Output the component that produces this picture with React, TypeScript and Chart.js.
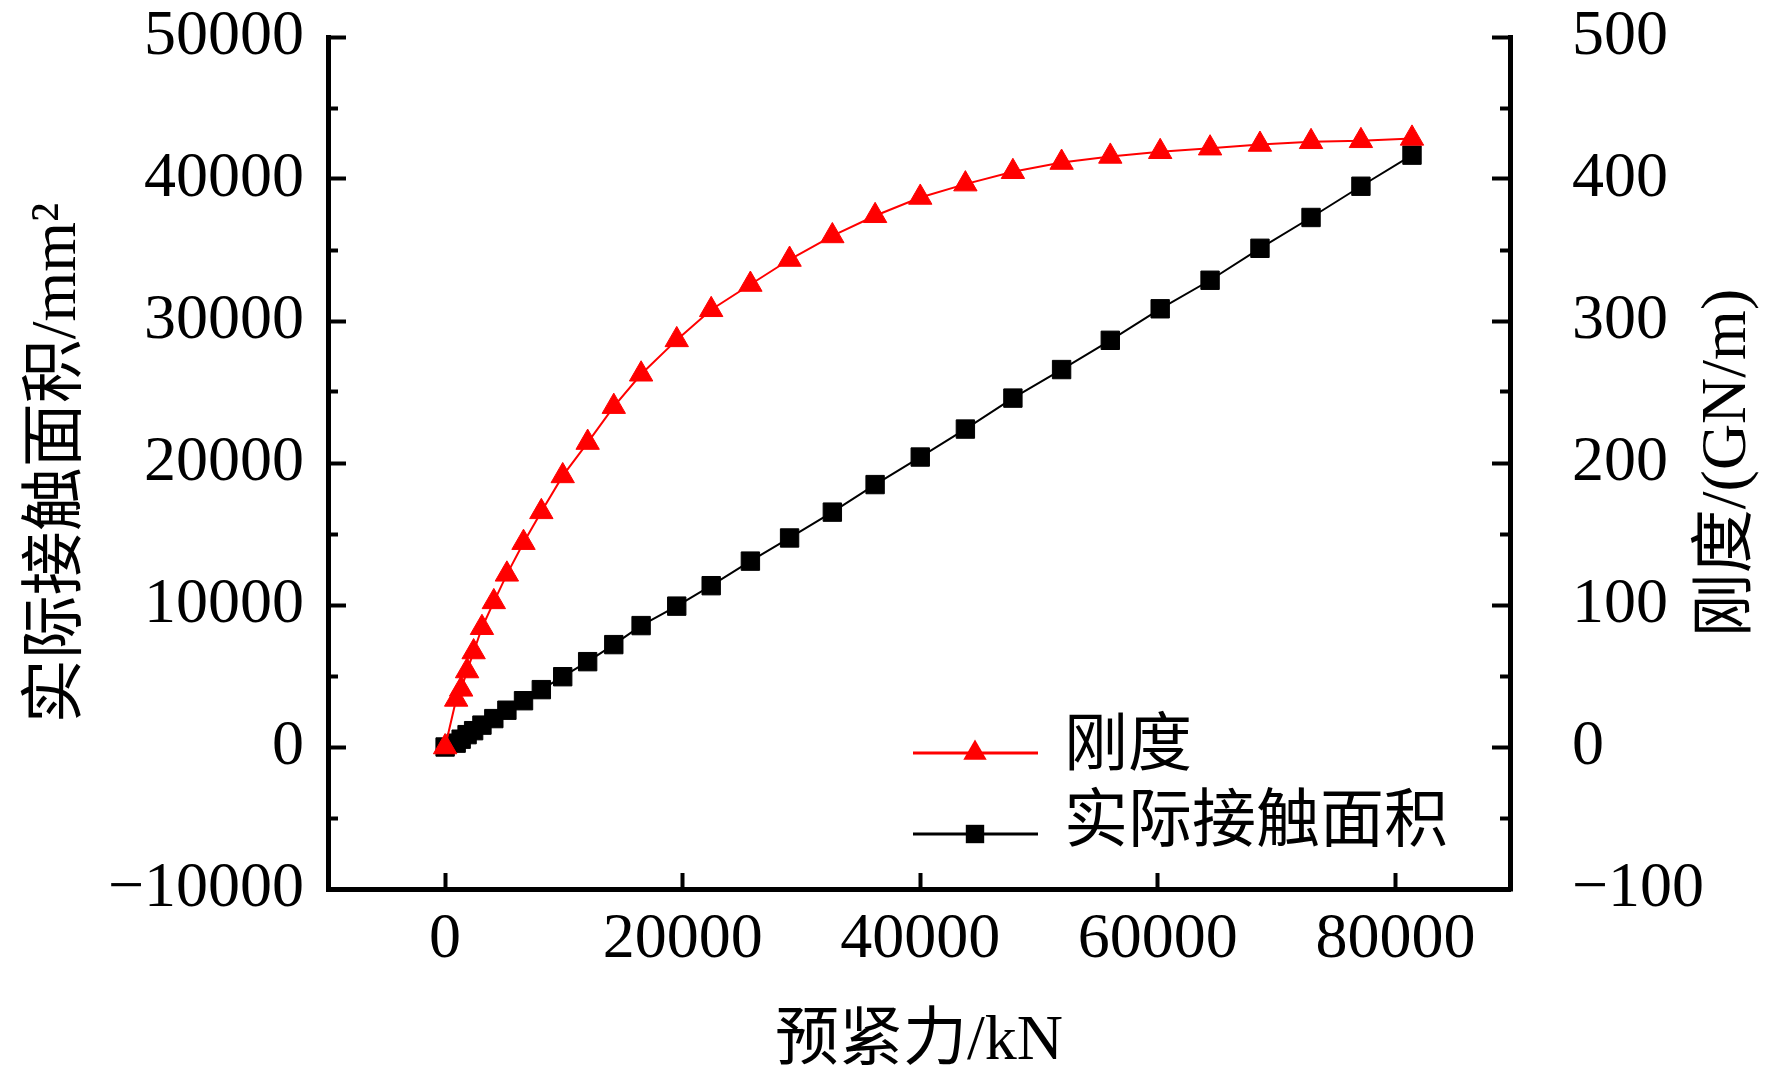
import { useEffect, useRef } from 'react';
import { Chart, registerables } from 'chart.js';
Chart.register(...registerables);

// preload force (kN), shared by both series
const preload = [0, 930, 1350, 1850, 2400, 3100, 4100, 5200, 6600, 8100, 9900, 12000, 14200, 16500, 19500, 22400, 25700, 29000, 32600, 36200, 40000, 43800, 47800, 51900, 56000, 60200, 64400, 68600, 72900, 77100, 81400];
// stiffness (GN/m), right axis
const stiffness = [0, 33.5, 40.6, 53.5, 66.9, 84.0, 102.2, 121.6, 143.9, 165.6, 190.9, 214.4, 239.7, 262.5, 286.7, 307.9, 325.7, 343.3, 359.9, 374.1, 387.0, 396.4, 405.1, 411.6, 415.9, 419.2, 421.7, 424.3, 426.2, 426.9, 428.6];
// real contact area (mm^2), left axis
const contactArea = [0, 270, 550, 870, 1150, 1540, 2000, 2590, 3260, 4040, 4950, 6010, 7210, 8550, 9920, 11360, 13090, 14720, 16540, 18480, 20420, 22390, 24570, 26580, 28640, 30860, 32870, 35120, 37290, 39490, 41680];

const xTicks = [0, 20000, 40000, 60000, 80000];
const yTicks = [-10000, 0, 10000, 20000, 30000, 40000, 50000];
const yMinorTicks = [-5000, 5000, 15000, 25000, 35000, 45000];
const y1Ticks = [-100, 0, 100, 200, 300, 400, 500];
const y1MinorTicks = [-50, 50, 150, 250, 350, 450];

const X_MIN = -9860;
const X_MAX = 89650;

const FONT = '"Liberation Serif", "Noto Sans CJK SC", serif';
const fmt = (v: number) => (v < 0 ? '\u2212' + Math.abs(v) : String(v));

// fixed box sizes; label overhang must not push the plot area
const fixBox = (w: number | null, h: number | null) => (s: any) => {
  if (w !== null) s.width = w;
  if (h !== null) s.height = h;
  s.paddingTop = 0;
  s.paddingBottom = 0;
  s.paddingLeft = 0;
  s.paddingRight = 0;
};

const legendPlugin = {
  id: 'insideLegend',
  afterDatasetsDraw(chart: Chart) {
    const { ctx } = chart;
    const rows = [
      { ds: chart.data.datasets[0] as any, lineY: 753, textY: 748 },
      { ds: chart.data.datasets[1] as any, lineY: 834, textY: 824 },
    ];
    ctx.save();
    rows.forEach(({ ds, lineY, textY }) => {
      ctx.strokeStyle = ds.borderColor;
      ctx.lineWidth = 3;
      ctx.beginPath();
      ctx.moveTo(913, lineY);
      ctx.lineTo(1038, lineY);
      ctx.stroke();
      const r = ds.pointRadius;
      const cx = 975;
      ctx.fillStyle = ds.pointBackgroundColor;
      ctx.beginPath();
      if (ds.pointStyle === 'triangle') {
        let rad = 0;
        for (let i = 0; i < 3; i++) {
          const px = cx + Math.sin(rad) * r;
          const py = lineY - Math.cos(rad) * r;
          if (i === 0) ctx.moveTo(px, py); else ctx.lineTo(px, py);
          rad += (2 * Math.PI) / 3;
        }
        ctx.closePath();
      } else {
        const s = r * Math.SQRT1_2;
        ctx.rect(cx - s, lineY - s, 2 * s, 2 * s);
      }
      ctx.fill();
      ctx.fillStyle = '#000';
      ctx.font = `64px ${FONT}`;
      ctx.textAlign = 'left';
      ctx.textBaseline = 'middle';
      ctx.fillText(ds.label, 1064, textY);
    });
    ctx.restore();
  },
};

const rightTitlePlugin = {
  id: 'rightTitle',
  afterDraw(chart: Chart) {
    const s = chart.scales.y1;
    const { ctx } = chart;
    ctx.save();
    ctx.translate(s.right - 44, (s.top + s.bottom) / 2);
    ctx.rotate(-Math.PI / 2);
    ctx.fillStyle = '#000';
    ctx.font = `64px ${FONT}`;
    ctx.textAlign = 'center';
    ctx.textBaseline = 'middle';
    ctx.fillText('刚度/(GN/m)', 0, 0);
    ctx.restore();
  },
};

export default function App() {
  const canvasRef = useRef<HTMLCanvasElement>(null);
  const chartRef = useRef<Chart | null>(null);

  useEffect(() => {
    if (!canvasRef.current) return;
    if (chartRef.current) chartRef.current.destroy();

    const tickFont = { family: FONT, size: 64, lineHeight: 1.15 };
    const majorGrid = { drawOnChartArea: false, tickLength: -18, tickWidth: 4, tickColor: '#000' };
    const minorGrid = { drawOnChartArea: false, tickLength: -10, tickWidth: 4, tickColor: '#000' };
    const border = { color: '#000', width: 5 };

    chartRef.current = new Chart(canvasRef.current, {
      type: 'line',
      data: {
        datasets: [
          {
            label: '刚度',
            data: preload.map((x, i) => ({ x, y: stiffness[i] })),
            yAxisID: 'y1',
            borderColor: '#ff0000',
            backgroundColor: '#ff0000',
            pointBackgroundColor: '#ff0000',
            pointBorderColor: '#ff0000',
            borderWidth: 2,
            pointStyle: 'triangle',
            pointRadius: 13.5,
            pointBorderWidth: 1,
            tension: 0,
          },
          {
            label: '实际接触面积',
            data: preload.map((x, i) => ({ x, y: contactArea[i] })),
            yAxisID: 'y',
            borderColor: '#000000',
            backgroundColor: '#000000',
            pointBackgroundColor: '#000000',
            pointBorderColor: '#000000',
            borderWidth: 2,
            pointStyle: 'rect',
            pointRadius: 13,
            pointBorderWidth: 1,
            tension: 0,
          },
        ],
      },
      options: {
        responsive: true,
        maintainAspectRatio: false,
        animation: false,
        devicePixelRatio: 1,
        layout: { padding: { top: 37, left: 0, right: 0, bottom: 0 } },
        plugins: { legend: { display: false }, tooltip: { enabled: false } },
        scales: {
          x: {
            type: 'linear',
            position: 'bottom',
            min: X_MIN,
            max: X_MAX,
            afterBuildTicks: (s: any) => { s.ticks = xTicks.map(value => ({ value })); },
            afterFit: fixBox(null, 192),
            grid: { ...majorGrid, tickLength: -16 },
            border,
            ticks: { color: '#000', font: tickFont, padding: 30, maxRotation: 0, autoSkip: false, callback: (v: any) => fmt(Number(v)) },
            title: { display: true, text: '预紧力/kN', color: '#000', font: { family: FONT, size: 64, lineHeight: 1.2 }, padding: { top: 0, bottom: 0 } },
          },
          y: {
            type: 'linear',
            position: 'left',
            weight: 1,
            min: -10000,
            max: 50000,
            afterBuildTicks: (s: any) => { s.ticks = yTicks.map(value => ({ value })); },
            afterFit: fixBox(328, null),
            grid: majorGrid,
            border,
            ticks: { color: '#000', font: tickFont, padding: 42, autoSkip: false, callback: (v: any) => fmt(Number(v)) },
            title: { display: true, text: '实际接触面积/mm²', color: '#000', font: { family: FONT, size: 64, lineHeight: 1.2 }, padding: { top: 20, bottom: 0 } },
          },
          yMinor: {
            type: 'linear',
            position: 'left',
            weight: 0,
            min: -10000,
            max: 50000,
            afterBuildTicks: (s: any) => { s.ticks = yMinorTicks.map(value => ({ value })); },
            afterFit: fixBox(0, null),
            grid: minorGrid,
            border: { display: false },
            ticks: { display: false },
          },
          y1: {
            type: 'linear',
            position: 'right',
            weight: 1,
            min: -100,
            max: 500,
            afterBuildTicks: (s: any) => { s.ticks = y1Ticks.map(value => ({ value })); },
            afterFit: fixBox(262, null),
            grid: majorGrid,
            border,
            ticks: { color: '#000', font: tickFont, padding: 80, autoSkip: false, callback: (v: any) => fmt(Number(v)) },
            title: { display: false },
          },
          y1Minor: {
            type: 'linear',
            position: 'right',
            weight: 0,
            min: -100,
            max: 500,
            afterBuildTicks: (s: any) => { s.ticks = y1MinorTicks.map(value => ({ value })); },
            afterFit: fixBox(0, null),
            grid: minorGrid,
            border: { display: false },
            ticks: { display: false },
          },
        },
      },
      plugins: [legendPlugin, rightTitlePlugin],
    } as any);

    return () => { chartRef.current?.destroy(); chartRef.current = null; };
  }, []);

  return (
    <div style={{ position: 'absolute', left: 0, top: 0, width: 1772, height: 1081, background: '#fff' }}>
      <canvas ref={canvasRef} role="img" aria-label="预紧力与刚度、实际接触面积关系图" />
    </div>
  );
}
